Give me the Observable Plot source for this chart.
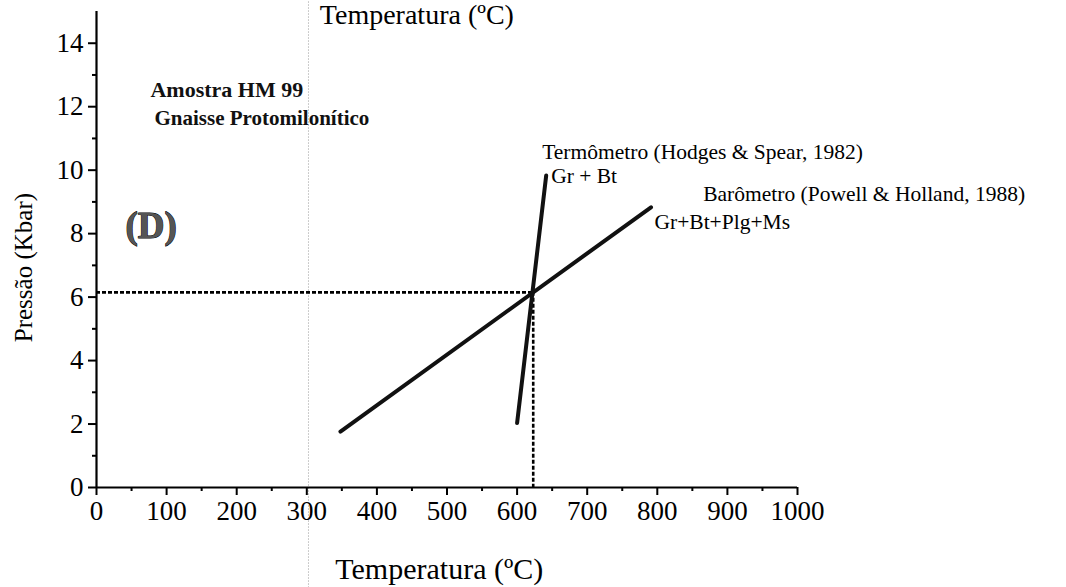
<!DOCTYPE html>
<html>
<head>
<meta charset="utf-8">
<script src="https://cdn.jsdelivr.net/npm/d3@7"></script>
<script src="https://cdn.jsdelivr.net/npm/@observablehq/plot@0.6"></script>
<style>
  body { margin: 0; background: #fff; }
  #chart svg { display: block; }
</style>
</head>
<body>
<div id="chart"></div>
<script>
// Geotermobarometria – amostra HM 99 (temperatura em ºC, pressão em kbar)
const barometro = [{t: 348, p: 1.76}, {t: 791, p: 8.83}];   // Gr+Bt+Plg+Ms
const termometro = [{t: 600, p: 2.03}, {t: 641.5, p: 9.83}]; // Gr + Bt
const equilibrioT = 623;
const equilibrioP = 6.15;

const xTicks = d3.range(0, 1001, 100);
const xMinor = d3.range(50, 1000, 100);
const yTicks = d3.range(0, 15, 2);
const yMinor = d3.range(1, 15, 2);

// Annotations placed in data coordinates (t, p)
const titulo = [
  {t: 77, p: 12.29, text: "Amostra HM 99", size: 22},
  {t: 82.7, p: 11.43, text: "Gnaisse Protomilonítico", size: 21}
];
const painel = [{t: 41.4, p: 7.87, text: "(D)"}];
const notas = [
  {t: 635.8, p: 10.36, text: "Termômetro (Hodges & Spear, 1982)"},
  {t: 648.6, p: 9.58, text: "Gr + Bt"},
  {t: 865.5, p: 9.02, text: "Barômetro (Powell & Holland, 1988)"},
  {t: 796, p: 8.15, text: "Gr+Bt+Plg+Ms"}
];
const eixoX = [
  {t: 457, p: 14.62, size: 28, text: "Temperatura (ºC)"},
  {t: 489, p: -2.87, size: 30, text: "Temperatura (ºC)"}
];
const eixoY = [{t: -91.3, p: 6.93, text: "Pressão (Kbar)"}];
const dobra = [{t: 302.4, p1: 15.4, p2: -3.2}];

const serif = "Liberation Serif, Times New Roman, serif";
const none = () => "";

const chart = Plot.plot({
  width: 1066,
  height: 587,
  marginLeft: 96,
  marginRight: 269,
  marginTop: 11,
  marginBottom: 100,
  style: {fontFamily: serif, background: "#fff", color: "#000"},
  x: {domain: [0, 1000]},
  y: {domain: [0, 15]},
  marks: [
    // faint fold line crossing the sheet
    Plot.ruleX(dobra, {x: "t", y1: "p1", y2: "p2", stroke: "#bbb", strokeWidth: 1, strokeDasharray: "1.5,1.5"}),
    // axes: major ticks with labels, minor ticks without
    Plot.axisX({ticks: xTicks, tickSize: 8, tickPadding: 5, fontSize: 27, tickFormat: d => String(d), label: null, strokeWidth: 2}),
    Plot.axisX({ticks: xMinor, tickSize: 4, tickFormat: none, label: null, strokeWidth: 2}),
    Plot.axisY({ticks: yTicks, tickSize: 8, tickPadding: 5, fontSize: 27, tickFormat: d => String(d), label: null, strokeWidth: 2}),
    Plot.axisY({ticks: yMinor, tickSize: 4, tickFormat: none, label: null, strokeWidth: 2}),
    Plot.ruleY([0], {strokeWidth: 2.2}),
    Plot.ruleX([0], {y1: 0, y2: 15, strokeWidth: 2.2}),
    // equilibrium read-off lines
    Plot.ruleY([equilibrioP], {x1: 0, x2: equilibrioT, strokeWidth: 2.6, strokeDasharray: "4,2"}),
    Plot.ruleX([equilibrioT], {y1: equilibrioP, y2: 0, strokeWidth: 2.6, strokeDasharray: "4,2"}),
    // reaction lines
    Plot.line(barometro, {x: "t", y: "p", stroke: "#111", strokeWidth: 4}),
    Plot.line(termometro, {x: "t", y: "p", stroke: "#111", strokeWidth: 4}),
    // text
    Plot.text(titulo, {x: "t", y: "p", text: "text", fontSize: d => d.size, fontWeight: "bold", textAnchor: "start", lineAnchor: "bottom", fill: "#111"}),
    Plot.text(painel, {x: "t", y: "p", text: "text", fontSize: 37, fontWeight: "bold", textAnchor: "start", lineAnchor: "bottom", fill: "#555", stroke: "#000", strokeWidth: 1}),
    Plot.text(notas, {x: "t", y: "p", text: "text", fontSize: 21.5, textAnchor: "start", lineAnchor: "bottom", fill: "#000"}),
    Plot.text(eixoX, {x: "t", y: "p", text: "text", fontSize: d => d.size, textAnchor: "middle", lineAnchor: "bottom", fill: "#000"}),
    Plot.text(eixoY, {x: "t", y: "p", text: "text", fontSize: 25, rotate: -90, textAnchor: "middle", lineAnchor: "bottom", fill: "#000"})
  ]
});

document.getElementById("chart").append(chart);
</script>
</body>
</html>
